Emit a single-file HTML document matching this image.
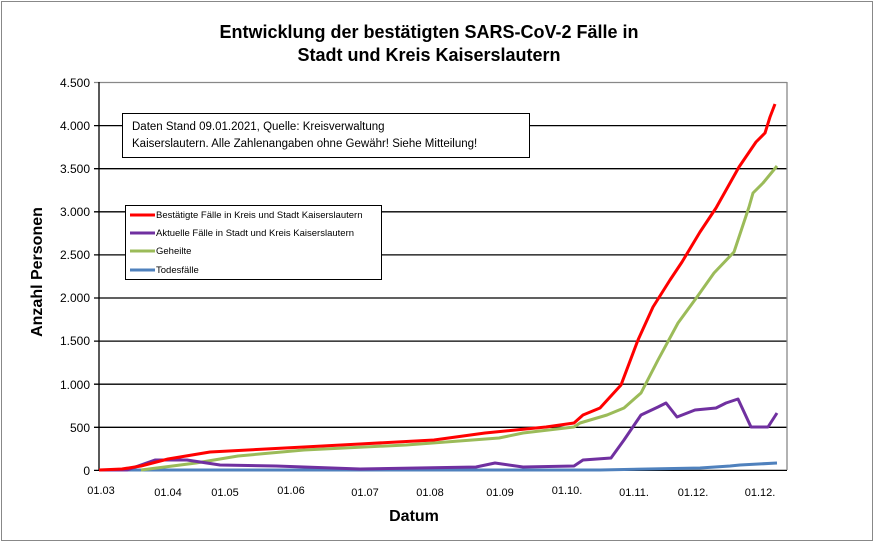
<!DOCTYPE html><html><head><meta charset="utf-8"><style>body{margin:0;background:#fff}svg{display:block}</style></head><body>
<svg width="875" height="543" xmlns="http://www.w3.org/2000/svg" font-family="Liberation Sans, Arial, sans-serif">
<rect x="1.5" y="1.5" width="871" height="539" fill="#fff" stroke="#888"/>
<text x="429" y="38" font-size="18" font-weight="bold" text-anchor="middle">Entwicklung der bestätigten SARS-CoV-2 Fälle in</text>
<text x="429" y="61" font-size="18" font-weight="bold" text-anchor="middle">Stadt und Kreis Kaiserslautern</text>
<g stroke="#000" stroke-width="1.3">
<line x1="94" y1="82.5" x2="787" y2="82.5" stroke="#888"/>
<line x1="94" y1="125.6" x2="787" y2="125.6"/><line x1="94" y1="168.7" x2="787" y2="168.7"/>
<line x1="94" y1="211.8" x2="787" y2="211.8"/><line x1="94" y1="254.9" x2="787" y2="254.9"/>
<line x1="94" y1="298" x2="787" y2="298"/><line x1="94" y1="341.1" x2="787" y2="341.1"/>
<line x1="94" y1="384.2" x2="787" y2="384.2"/><line x1="94" y1="427.3" x2="787" y2="427.3"/>
<line x1="94" y1="470.4" x2="787" y2="470.4"/>
<line x1="99" y1="82" x2="99" y2="470"/>
</g>
<line x1="787" y1="82" x2="787" y2="470" stroke="#888" stroke-width="1.3"/>
<g font-size="12" text-anchor="end">
<text x="90" y="87">4.500</text><text x="90" y="130">4.000</text><text x="90" y="173">3.500</text><text x="90" y="216">3.000</text><text x="90" y="259">2.500</text><text x="90" y="302">2.000</text><text x="90" y="345">1.500</text><text x="90" y="389">1.000</text><text x="90" y="432">500</text><text x="90" y="475">0</text>
</g>
<g font-size="11" text-anchor="middle">
<text x="101" y="494">01.03</text><text x="168" y="496">01.04</text><text x="225" y="496">01.05</text><text x="291" y="494">01.06</text><text x="365" y="496">01.07</text><text x="430" y="496">01.08</text><text x="500" y="496">01.09</text><text x="567" y="494">01.10.</text><text x="634" y="496">01.11.</text><text x="693" y="496">01.12.</text><text x="760" y="496">01.12.</text>
</g>
<text x="414" y="521" font-size="16" font-weight="bold" text-anchor="middle">Datum</text>
<text transform="translate(42,272) rotate(-90)" font-size="16" font-weight="bold" text-anchor="middle">Anzahl Personen</text>
<g fill="none" stroke-width="3" stroke-linejoin="round">
<polyline stroke="#4f81bd" points="99,470 600,470 700,468 730,466 740,465 777,463"/>
<polyline stroke="#9bbb59" points="141,470 196,463 238,456 304,450 406,445 499,438 523,433 574,427 580,423 607,415 624,408 641,393 658,360 678,323 697,297 714,273 734,252 749,207 753,193 763,183 777,166"/>
<polyline stroke="#7030a0" points="99,470 127,470 155,460 187,460 220,465 276,466 360,469 476,467 495,463 523,467 574,466 583,460 611,458 624,440 641,415 658,407 666,403 677,417 695,410 716,408 726,403 738,399 751,427 768,427 777,413"/>
<polyline stroke="#ff0000" points="99,470 122,469 141,466 168,459 210,452 304,447 360,444 434,440 485,433 546,427 574,423 583,415 600,408 621,385 638,340 653,307 670,280 682,262 700,232 716,208 739,167 756,142 765,133 770,117 775,104"/>
</g>
<rect x="122.5" y="113.5" width="407" height="44" fill="#fff" stroke="#000"/>
<text x="132" y="130" font-size="11.5">Daten Stand 09.01.2021, Quelle: Kreisverwaltung</text>
<text x="132" y="147" font-size="11.5">Kaiserslautern. Alle Zahlenangaben ohne Gewähr! Siehe Mitteilung!</text>
<rect x="125.5" y="205.5" width="256" height="74" fill="#fff" stroke="#000"/>
<g stroke-width="3"><line x1="130" y1="215" x2="155" y2="215" stroke="#ff0000"/><line x1="130" y1="233" x2="155" y2="233" stroke="#7030a0"/><line x1="130" y1="251" x2="155" y2="251" stroke="#9bbb59"/><line x1="130" y1="270" x2="155" y2="270" stroke="#4f81bd"/></g>
<g font-size="9.5"><text x="156" y="218">Bestätigte Fälle in Kreis und Stadt Kaiserslautern</text><text x="156" y="236">Aktuelle Fälle in Stadt und Kreis Kaiserslautern</text><text x="156" y="254">Geheilte</text><text x="156" y="273">Todesfälle</text></g>
</svg></body></html>
